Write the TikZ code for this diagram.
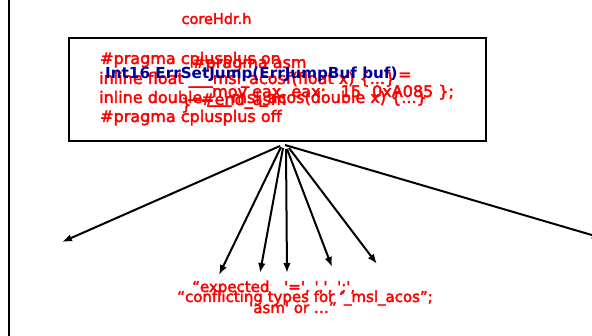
\documentclass[tikz,border=0pt]{standalone}
\usepackage{fontspec}
\setmainfont{DejaVu Sans}
\newfontfamily\redface[FakeBold=2.5]{DejaVu Sans}
\usetikzlibrary{arrows.meta}
\definecolor{codered}{RGB}{255,0,0}
\definecolor{codeblue}{RGB}{0,0,153}
\tikzset{
  code/.style={anchor=base west, inner sep=0pt, text=codered, font=\redface\fontsize{16}{19}\selectfont},
  bluecode/.style={anchor=base west, inner sep=0pt, text=codeblue, font=\fontsize{15.2}{19}\selectfont\bfseries},
  msg/.style={inner sep=0pt, text=codered, font=\redface\fontsize{15}{21}\selectfont},
  edge/.style={line width=2pt, -{Latex[length=10pt,width=7.5pt]}},
  frame/.style={line width=2pt},
}
\begin{document}
\begin{tikzpicture}[x=1pt,y=-1pt]
\useasboundingbox (0,0) rectangle (592,336);
\fill[white] (0,0) rectangle (592,336);
% left rule
\draw[frame] (9,-2) -- (9,338);
% header file name
\node[msg, anchor=base, font=\redface\fontsize{14.5}{16}\selectfont] (title) at (216.5,24) {coreHdr.h};
% header box
\draw[frame] (69,38) rectangle (486,141);
\node[code] (l1) at (100,64) {\#pragma cplusplus on};
\node[code] (pasm) at (192,68) {\#pragma asm};
\node[code] (l2) at (99,84) {inline float \_\_\_msl\_acosf(float x) \{...\}};
\node[code] (movl) at (188,97) {\_\_\_mov eax, eax:\hspace{8pt} 15\hspace{6pt} 0xA085 \};};
\node[code] (l3) at (99,103) {inline double \_\_\_msl\_acos(double x) \{...\}};
\node[code] (endasm) at (201,105) {\#end\_asm};
\node[code] (brace) at (181,110) {\}};
\node[code] (l4) at (100,122) {\#pragma cplusplus off};
\node[bluecode] (sig) at (105,79) {Int16 ErrSetJump(ErrJumpBuf buf)};
\node[code] (eq) at (398,80) {=};
% connector origins and targets
\coordinate (s1) at (280,146); \coordinate (t1) at (62,242);
\coordinate (s2) at (281,147); \coordinate (t2) at (219,275);
\coordinate (s3) at (283,148); \coordinate (t3) at (260,273);
\coordinate (s4) at (286,149); \coordinate (t4) at (287,273);
\coordinate (s5) at (287,149); \coordinate (t5) at (332,267);
\coordinate (s6) at (289,148); \coordinate (t6) at (377,264);
\coordinate (s7) at (285,145); \coordinate (t7) at (602,238);
\foreach \i in {1,...,7} \draw[edge] (s\i) -- (t\i);
% compiler messages (the two-line node is placed by its last baseline)
\node[msg, anchor=base west, align=left] (m1) at (192,313)
  {“expected\hspace{10pt} '=', ',', ';',\\\hspace{57pt}'asm' or …”};
\node[msg, anchor=base] (m2) at (305,302) {“conflicting types for ‘\_msl\_acos”;};
\end{tikzpicture}
\end{document}
